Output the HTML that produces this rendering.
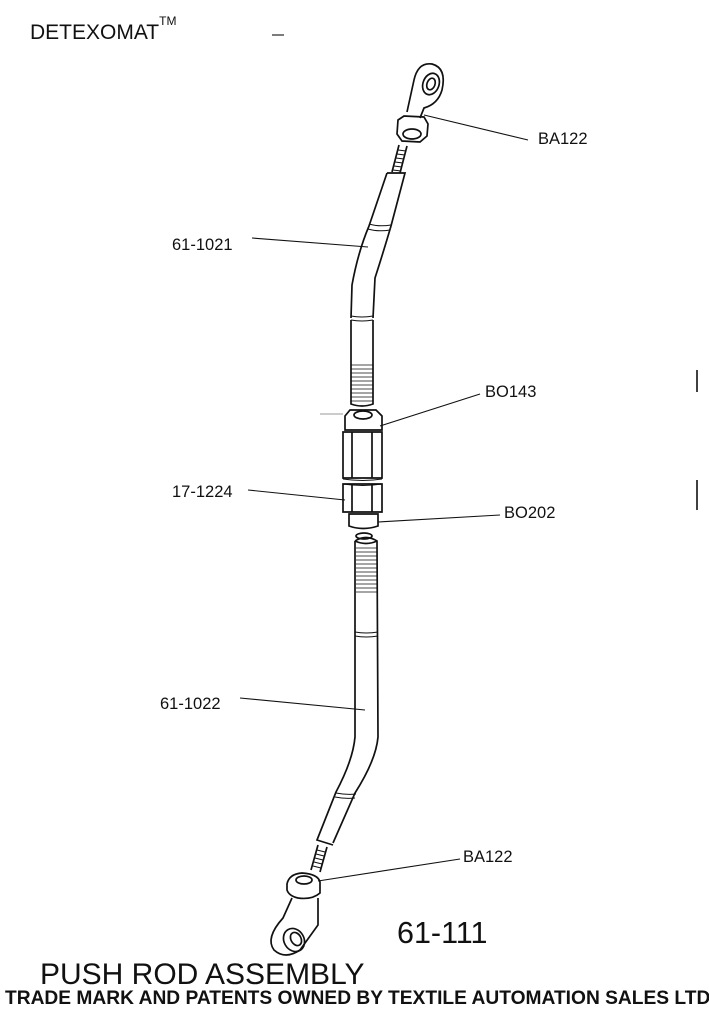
<!DOCTYPE html>
<html><head><meta charset="utf-8"><style>
body{margin:0;width:709px;height:1024px;background:#fff;overflow:hidden;font-family:"Liberation Sans",sans-serif;position:relative}
.t{position:absolute;color:#111;white-space:nowrap}
.l{font-size:16.5px}
</style></head><body>
<svg width="709" height="1024" style="position:absolute;left:0;top:0" fill="none" stroke="#111" stroke-width="1.7">
<path d="M407 112 L414 80 Q418 62 432 64 Q447 68 442 90 Q438 104 424 108 L420 118"/>
<ellipse cx="431" cy="84" rx="8" ry="11" transform="rotate(20 431 84)"/>
<ellipse cx="431" cy="84" rx="4" ry="6" transform="rotate(20 431 84)"/>
<path d="M398 120 L404 116 L424 117 L428 124 L427 136 L420 142 L402 141 L397 134 Z"/>
<ellipse cx="412" cy="134" rx="9" ry="5"/>
<path d="M399 145 L392 172 M407 146 L400 173"/>
<path d="M398 150 l8 1 M397 154 l8 1 M396 158 l8 1 M395 162 l8 1 M394 166 l8 1 M393 170 l8 1" stroke-width="1"/>
<path d="M387 173 L405 173 L391 226 Q384 250 375 278 L373 318"/>
<path d="M387 173 L369 226 Q358 252 352 285 L351 318"/>
<path d="M369 224 q10 3 22 1 M368 229 q10 3 22 1" stroke-width="1"/>
<path d="M351 316 q11 2 22 0 M351 320 q11 2 22 0" stroke-width="1"/>
<path d="M351 320 L351 404 Q362 408 373 404 L373 320"/>
<path d="M351 365 h22 M351 369 h22 M351 373 h22 M351 377 h22 M351 381 h22 M351 385 h22 M351 389 h22 M351 393 h22 M351 397 h22 M351 401 h22" stroke-width="0.8"/>
<path d="M345 416 L350 410 L376 410 L382 416 L382 430 L345 430 Z"/>
<ellipse cx="363" cy="415" rx="9" ry="4"/>
<path d="M343 432 L382 432 L382 478 L343 478 Z M352 432 V478 M372 432 V478"/>
<path d="M343 479 q20 3 39 0 M343 484 q20 3 39 0" stroke-width="1"/>
<path d="M343 484 L382 484 L382 512 L343 512 Z M352 484 V512 M372 484 V512"/>
<path d="M349 514 L378 514 L378 526 Q363 531 349 526 Z"/>
<ellipse cx="364" cy="536" rx="8" ry="3"/>
<path d="M355 541 Q366 534 377 541 L378 737 Q376 760 355 793 L333 843"/>
<path d="M355 541 L355 737 Q353 760 336 792 L317 840 L333 845"/>
<path d="M355 541 q11 5 22 0" />
<path d="M356 548 h21 M356 552 h21 M356 556 h21 M356 560 h21 M356 564 h21 M356 568 h21 M356 572 h21 M356 576 h21 M356 580 h21 M356 584 h21 M356 588 h21 M356 592 h21" stroke-width="0.8"/>
<path d="M355 632 q11 2 23 0 M355 636 q11 2 23 0" stroke-width="1"/>
<path d="M336 793 q10 2 20 1 M335 797 q10 2 20 1" stroke-width="1"/>
<path d="M318 845 L311 870 M327 847 L320 872"/>
<path d="M317 850 l8 2 M316 854 l8 2 M315 858 l8 2 M314 862 l8 2 M313 866 l8 2" stroke-width="1"/>
<path d="M287 884 Q289 874 302 873 Q318 874 320 882 L320 893 Q312 900 298 898 Q289 896 287 890 Z"/>
<ellipse cx="304" cy="880" rx="8" ry="4"/>
<path d="M292 898 L283 918 Q265 938 274 950 Q285 960 300 950 L318 925 L318 898"/>
<ellipse cx="294" cy="940" rx="10" ry="12" transform="rotate(-30 294 940)"/>
<ellipse cx="296" cy="939" rx="5" ry="7" transform="rotate(-30 296 939)"/>
<g stroke-width="1.1">
<line x1="424" y1="115" x2="528" y2="140"/>
<line x1="252" y1="238" x2="368" y2="247"/>
<line x1="380" y1="426" x2="480" y2="394"/>
<line x1="248" y1="490" x2="345" y2="500"/>
<line x1="378" y1="522" x2="500" y2="515"/>
<line x1="240" y1="698" x2="365" y2="710"/>
<line x1="318" y1="881" x2="460" y2="859"/>
<line x1="320" y1="414" x2="343" y2="414" stroke="#999"/>
<line x1="272" y1="35" x2="284" y2="35"/>
<line x1="697" y1="370" x2="697" y2="392" stroke-width="1.6"/>
<line x1="697" y1="480" x2="697" y2="510" stroke-width="1.6"/>
</g>
</svg>
<div class="t" style="left:30px;top:20px;font-size:21px">DETEXOMAT<sup style="font-size:12px;position:relative;top:-6px">TM</sup></div>
<div class="t l" style="left:538px;top:130px">BA122</div>
<div class="t l" style="left:172px;top:236px">61-1021</div>
<div class="t l" style="left:485px;top:383px">BO143</div>
<div class="t l" style="left:172px;top:483px">17-1224</div>
<div class="t l" style="left:504px;top:504px">BO202</div>
<div class="t l" style="left:160px;top:695px">61-1022</div>
<div class="t l" style="left:463px;top:848px">BA122</div>
<div class="t" style="left:397px;top:916px;font-size:30.5px">61-111</div>
<div class="t" style="left:40px;top:958px;font-size:30px">PUSH ROD ASSEMBLY</div>
<div class="t" style="left:5px;top:988px;font-size:19.2px;font-weight:bold">TRADE MARK AND PATENTS OWNED BY TEXTILE AUTOMATION SALES LTD</div>
</body></html>
